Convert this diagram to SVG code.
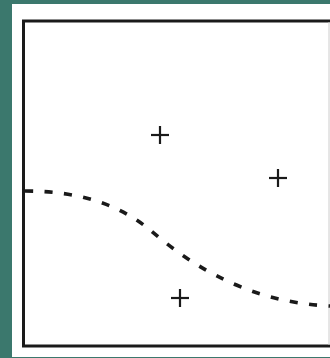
<svg xmlns="http://www.w3.org/2000/svg" width="330" height="358" viewBox="0 0 330 358">
<style>
.plus{stroke:#1a1a1a;stroke-width:2.2;fill:none}
.curve{stroke:#1a1a1a;stroke-width:3.6;fill:none;stroke-dasharray:8 11.5}
</style>
<rect x="0" y="0" width="330" height="358" fill="#3b786d"/>
<rect x="12" y="4" width="318" height="353" fill="#ffffff"/>
<rect id="frame" x="23.5" y="21" width="310" height="325" fill="none" stroke="#1a1a1a" stroke-width="3"/>
<line x1="329" y1="22" x2="329" y2="345" stroke="#cccccc" stroke-width="1"/>
<g id="points">
<g id="p1" class="plus"><line x1="151" y1="135" x2="169" y2="135"/><line x1="160" y1="126" x2="160" y2="144"/></g>
<g id="p2" class="plus"><line x1="269" y1="178" x2="287" y2="178"/><line x1="278" y1="169" x2="278" y2="187"/></g>
<g id="p3" class="plus"><line x1="171" y1="298" x2="189" y2="298"/><line x1="180" y1="289" x2="180" y2="307"/></g>
</g>
<g id="connectors">
<path class="curve" d="M25,191 C80,191 120,205 150,230 S238,302 330,306"/>
</g>
</svg>
